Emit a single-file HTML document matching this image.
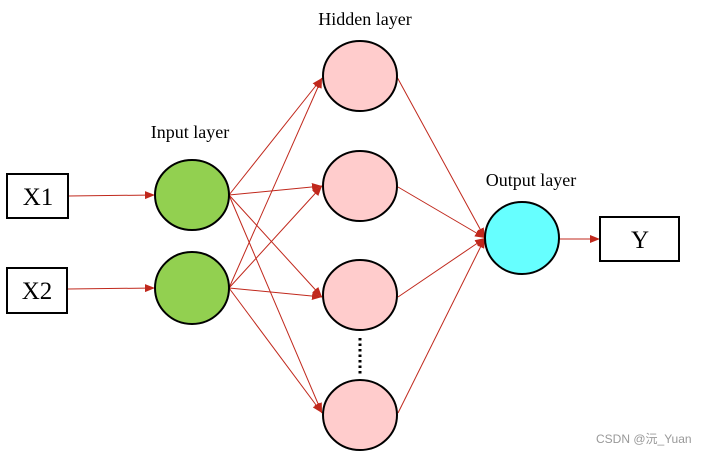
<!DOCTYPE html>
<html><head><style>body{margin:0;background:#fff}svg{display:block}</style></head><body>
<svg width="713" height="453" xmlns="http://www.w3.org/2000/svg" font-family="Liberation Serif, serif">
<defs><marker id="a" markerWidth="10" markerHeight="8" refX="10" refY="4" orient="auto" markerUnits="userSpaceOnUse"><path d="M0,0 L10,4 L0,8 z" fill="#c0281c"/></marker></defs>
<g stroke="#c0281c" stroke-width="1" fill="none" marker-end="url(#a)">
<line x1="68" y1="196" x2="155" y2="195"/>
<line x1="68" y1="289" x2="155" y2="288"/>
<line x1="229" y1="195" x2="322" y2="78"/>
<line x1="229" y1="195" x2="322" y2="186"/>
<line x1="229" y1="195" x2="322" y2="297"/>
<line x1="229" y1="195" x2="322" y2="413"/>
<line x1="229" y1="288" x2="322" y2="78"/>
<line x1="229" y1="288" x2="322" y2="186"/>
<line x1="229" y1="288" x2="322" y2="297"/>
<line x1="229" y1="288" x2="322" y2="413"/>
<line x1="397" y1="77" x2="485" y2="238"/>
<line x1="398" y1="187" x2="485" y2="238"/>
<line x1="398" y1="297" x2="485" y2="238"/>
<line x1="398" y1="413" x2="485" y2="238"/>
<line x1="559" y1="239" x2="600" y2="239"/>
</g>
<g stroke="#000" stroke-width="2">
<rect x="7" y="174" width="61" height="44" fill="#fff"/>
<rect x="7" y="268" width="60" height="45" fill="#fff"/>
<rect x="600" y="217" width="79" height="44" fill="#fff"/>
<ellipse cx="192" cy="195" rx="37" ry="35" fill="#92d050"/>
<ellipse cx="192" cy="288" rx="37" ry="36" fill="#92d050"/>
<ellipse cx="360" cy="76" rx="37" ry="35" fill="#ffcccc"/>
<ellipse cx="360" cy="186" rx="37" ry="35" fill="#ffcccc"/>
<ellipse cx="360" cy="295" rx="37" ry="35" fill="#ffcccc"/>
<ellipse cx="360" cy="415" rx="37" ry="35" fill="#ffcccc"/>
<ellipse cx="522" cy="238" rx="37" ry="36" fill="#66ffff"/>
</g>
<line x1="360" y1="338" x2="360" y2="374" stroke="#000" stroke-width="3" stroke-dasharray="2.5,3"/>
<g font-size="25" text-anchor="middle" fill="#000">
<text x="38" y="205">X1</text>
<text x="37" y="299">X2</text>
<text x="640" y="248">Y</text>
</g>
<g font-size="18" text-anchor="middle" fill="#000">
<text x="190" y="138">Input layer</text>
<text x="365" y="25">Hidden layer</text>
<text x="531" y="186">Output layer</text>
</g>
<text x="596" y="443" font-family="Liberation Sans, Noto Sans CJK SC, sans-serif" font-size="12" fill="#999">CSDN @沅_Yuan</text>
</svg>
</body></html>
